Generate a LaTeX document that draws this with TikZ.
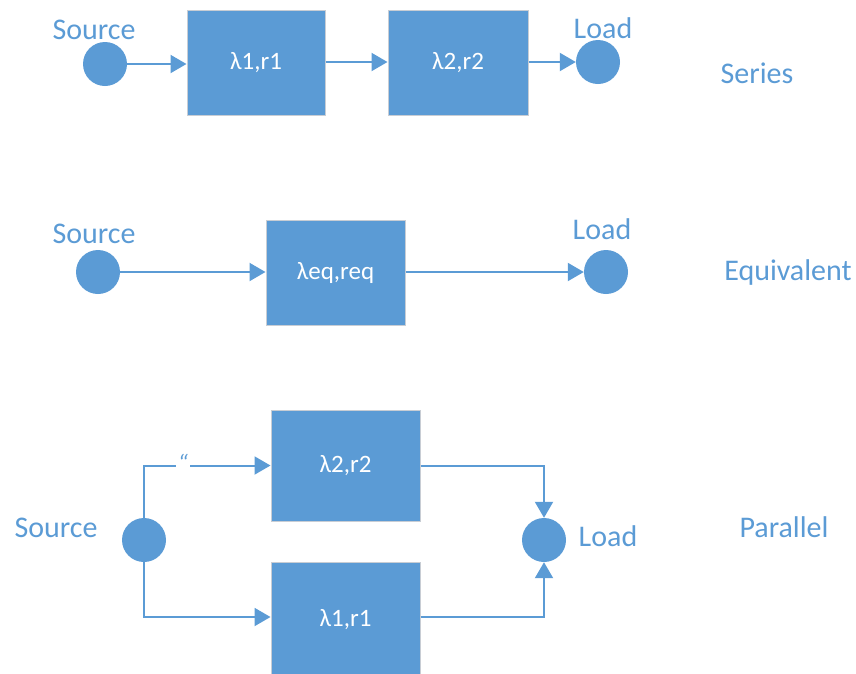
\documentclass[tikz,border=0pt]{standalone}
\usepackage{fontspec}
\setmainfont{Carlito}
\usetikzlibrary{arrows.meta}
\definecolor{accent}{HTML}{5B9BD5}
\definecolor{edge}{HTML}{C8CDD4}
\tikzset{
  block/.style={draw=edge, line width=1pt, fill=accent, text=white, minimum width=#1, inner sep=0pt,
    font=\fontsize{25}{30}\selectfont},
  block/.default=138pt,
  term/.style={circle, fill=accent, minimum size=44pt, inner sep=0pt},
  caption/.style={text=accent, font=\fontsize{30}{36}\selectfont, inner sep=0pt},
  link/.style={draw=accent, line width=2pt, -{Triangle[length=16pt,width=18pt]}},
  wire/.style={draw=accent, line width=2pt}
}
\begin{document}
\begin{tikzpicture}[x=1pt,y=-1pt]
\useasboundingbox (0,0) rectangle (856,673);
\clip (0,0) rectangle (856,673);

% series chain
\node[term] (s1) at (105,64) {};
\node[caption] (s1t) at (94,30) {Source};
\node[block, minimum height=105pt] (b11) at (256,62.5) {λ1,r1};
\node[block=140pt, minimum height=105pt] (b12) at (458,62.5) {λ2,r2};
\node[term] (l1) at (598,62) {};
\node[caption] (l1t) at (603,28) {Load};
\node[caption] (c1) at (757,73) {Series};
\draw[link] (s1) -- (s1 -| b11.west);
\draw[link] (b11.east |- 0,62) -- (b12.west |- 0,62);
\draw[link] (b12.east |- l1) -- (l1);

% equivalent element
\node[term] (s2) at (98,272) {};
\node[caption] (s2t) at (94,234) {Source};
\node[block=139pt, minimum height=105pt] (b2) at (335.5,272.5) {λeq,req};
\node[term] (l2) at (606,272) {};
\node[caption] (l2t) at (602,229) {Load};
\node[caption] (c2) at (788,272) {Equivalent};
\draw[link] (s2) -- (s2 -| b2.west);
\draw[link] (b2.east |- l2) -- (l2);

% parallel pair (lower block runs past the bottom edge)
\node[term] (s3) at (144,540) {};
\node[caption] (s3t) at (56,528) {Source};
\node[block=149pt, minimum height=111pt] (b31) at (345.5,465.5) {λ2,r2};
\node[block=149pt, minimum height=116pt] (b32) at (345.5,620) {λ1,r1};
\node[term] (l3) at (544,540) {};
\node[caption] (l3t) at (608,536) {Load};
\node[caption] (c3) at (784,527) {Parallel};
\draw[link] (s3.north) |- (b31.west);
\node[fill=white, inner sep=2pt, text=accent, font=\itshape\fontsize{24}{24}\selectfont] (q) at (183,463) {“};
\draw[link] (s3.south) |- ([yshift=3pt]b32.west);
\draw[link] (b31.east) -| (l3.north);
\draw[link] ([yshift=3pt]b32.east) -| (l3.south);
\end{tikzpicture}
\end{document}
